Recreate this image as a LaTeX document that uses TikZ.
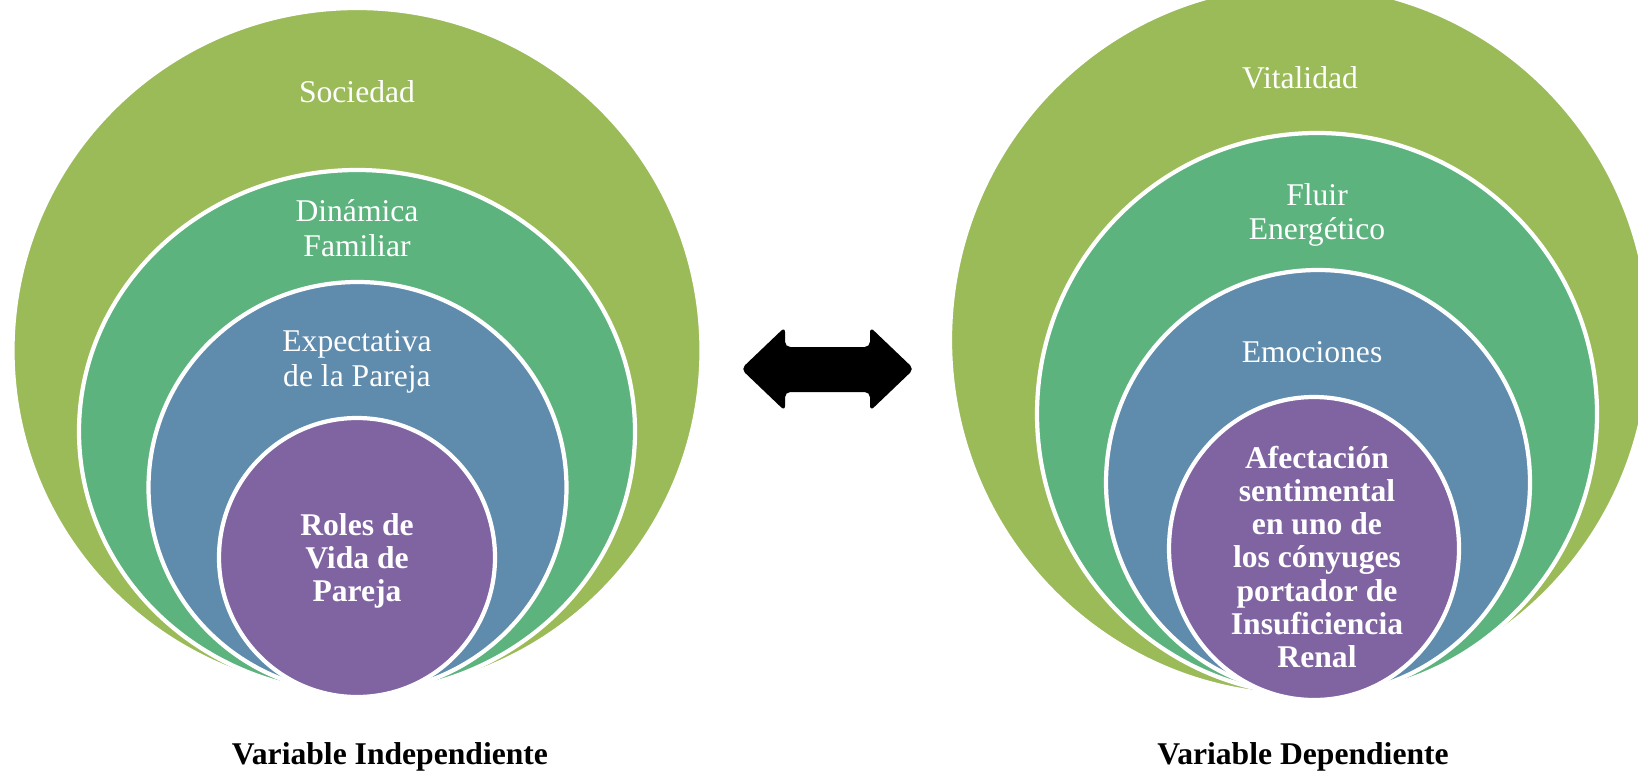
\documentclass[tikz,border=0pt]{standalone}
\usepackage{fontspec}
\setmainfont{Liberation Serif}
\usepackage{tikz}

\begin{document}
\begin{tikzpicture}[x=1cm,y=1cm,
  ring/.style={draw=white,line width=1.2pt},
  lbl/.style={text=white,align=center,font=\fontsize{9}{9.8}\selectfont},
  core/.style={lbl,font=\fontsize{9}{9.4}\selectfont\bfseries},
  varcap/.style={font=\fontsize{9}{10}\selectfont\bfseries}]
\definecolor{olive}{HTML}{9BBB59}
\definecolor{jade}{HTML}{5DB37E}
\definecolor{steel}{HTML}{5F8BAD}
\definecolor{plum}{HTML}{8064A2}
\useasboundingbox (0,0) rectangle (16.38,7.79);
% left target
\filldraw[ring,fill=olive] (3.570,4.285) ellipse (3.445 and 3.425);
\filldraw[ring,fill=jade] (3.570,3.475) ellipse (2.780 and 2.615);
\filldraw[ring,fill=steel] (3.575,2.915) ellipse (2.090 and 2.055);
\filldraw[ring,fill=plum] (3.570,2.215) ellipse (1.380 and 1.395);
\node[lbl] (soc) at (3.570,6.870) {Sociedad};
\node[lbl] (din) at (3.570,5.510) {Dinámica\\Familiar};
\node[lbl] (exp) at (3.570,4.170) {Expectativa\\de la Pareja};
\node[core] (rol) at (3.570,2.180) {Roles de\\Vida de\\Pareja};
\node[varcap] (vi) at (3.900,0.220) {Variable Independiente};
% right target
\filldraw[ring,fill=olive] (13.000,4.390) ellipse (3.500 and 3.550);
\filldraw[ring,fill=jade] (13.170,3.650) ellipse (2.800 and 2.810);
\filldraw[ring,fill=steel] (13.180,2.965) ellipse (2.120 and 2.125);
\filldraw[ring,fill=plum] (13.140,2.305) ellipse (1.450 and 1.515);
\node[lbl] (vit) at (13.000,7.010) {Vitalidad};
\node[lbl] (flu) at (13.170,5.640) {Fluir\\Energético};
\node[lbl] (emo) at (13.120,4.270) {Emociones};
\node[core] (afe) at (13.170,2.220) {Afectación\\sentimental\\en uno de\\los cónyuges\\portador de\\Insuficiencia\\Renal};
\node[varcap] (vd) at (13.030,0.220) {Variable Dependiente};
% double arrow
\fill[black,rounded corners=1.5pt] (7.410,4.100) -- (7.850,4.520) -- (7.850,4.320)
  -- (8.700,4.320) -- (8.700,4.520) -- (9.140,4.100) -- (8.700,3.680)
  -- (8.700,3.870) -- (7.850,3.870) -- (7.850,3.680) -- cycle;
\end{tikzpicture}
\end{document}
